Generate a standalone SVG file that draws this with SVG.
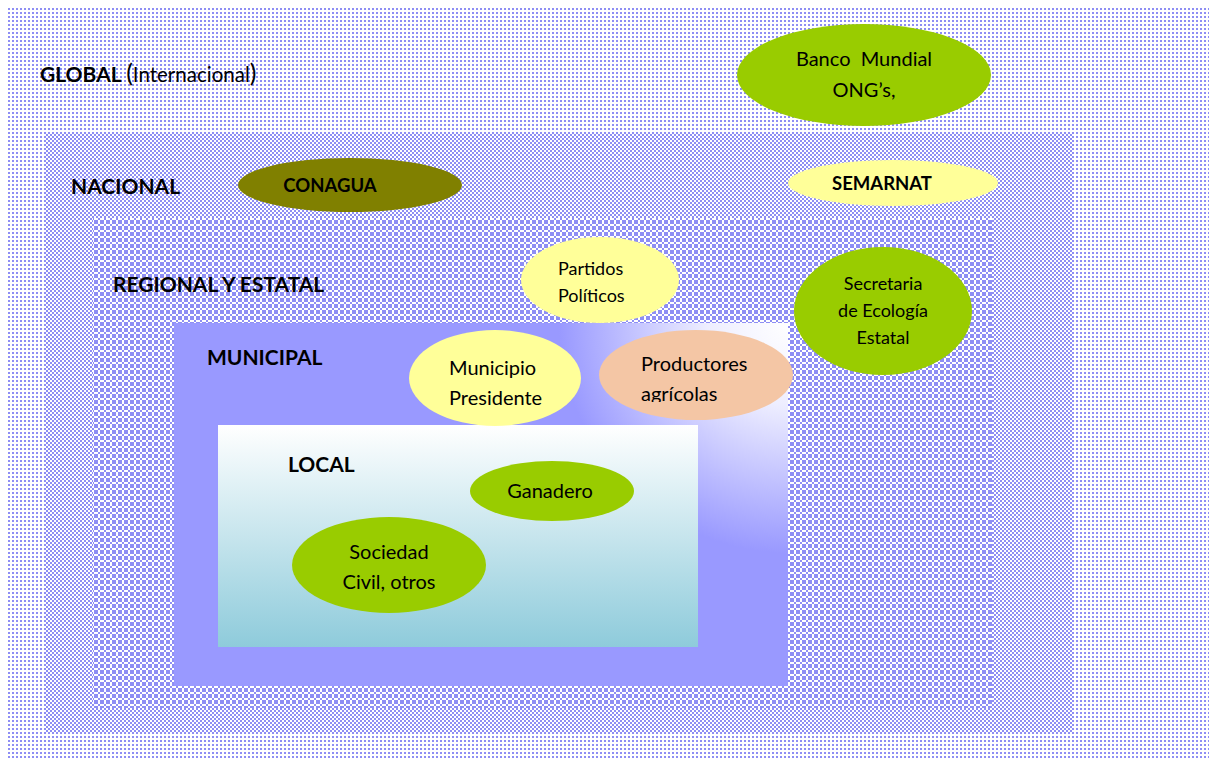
<svg xmlns="http://www.w3.org/2000/svg" width="1212" height="759" viewBox="0 0 1212 759">
<defs>
<style>
.lbl{font-family:Lato,"Open Sans","Liberation Sans",sans-serif;font-weight:bold;fill:#000}
.t{font-family:Lato,"Open Sans","Liberation Sans",sans-serif;fill:#000}
</style>
<pattern id="pGlobal" width="4" height="4" patternUnits="userSpaceOnUse">
<rect width="4" height="4" fill="#ffffff"/>
<rect x="0" y="0" width="2" height="2" fill="#8e8ef4"/>
</pattern>
<pattern id="pNac" width="4" height="4" patternUnits="userSpaceOnUse">
<rect width="4" height="4" fill="#ffffff"/>
<rect x="0" y="0" width="2" height="2" fill="#8e8ef4"/>
<rect x="2" y="2" width="2" height="2" fill="#8e8ef4"/>
</pattern>
<pattern id="pReg" width="6" height="6" patternUnits="userSpaceOnUse">
<rect width="6" height="6" fill="#ffffff"/>
<rect x="0" y="0" width="2" height="2" fill="#8e8ef4"/>
<rect x="2" y="2" width="2" height="2" fill="#8e8ef4"/>
<rect x="4" y="0" width="2" height="2" fill="#8e8ef4"/>
<rect x="0" y="4" width="2" height="2" fill="#8e8ef4"/>
<rect x="4" y="4" width="2" height="2" fill="#8e8ef4"/>
</pattern>
<radialGradient id="gMun" gradientUnits="userSpaceOnUse" cx="790" cy="322" r="330">
<stop offset="0" stop-color="#ffffff"/>
<stop offset="0.25" stop-color="#eeeeff"/>
<stop offset="0.7" stop-color="#9999ff"/>
<stop offset="1" stop-color="#9999ff"/>
</radialGradient>
<linearGradient id="gLoc" x1="0" y1="0" x2="0" y2="1">
<stop offset="0" stop-color="#ffffff"/>
<stop offset="1" stop-color="#8ecbdb"/>
</linearGradient>
<clipPath id="clipProd"><rect x="600" y="330" width="200" height="72"/></clipPath>
</defs>

<g id="global">
<rect x="8" y="6" width="1201" height="753" fill="url(#pGlobal)"/>
<text class="lbl" x="40" y="82" font-size="21">GLOBAL <tspan font-weight="normal" font-size="25">(</tspan><tspan font-weight="normal" font-size="20.5">Internacional</tspan><tspan font-weight="normal" font-size="25">)</tspan></text>
</g>
<g id="nacional">
<rect x="44" y="132" width="1029" height="601" fill="url(#pNac)"/>
<text class="lbl" x="71" y="194" font-size="21">NACIONAL</text>
</g>
<g id="regional">
<rect x="93" y="218" width="899" height="490" fill="url(#pReg)"/>
<text class="lbl" x="113" y="292" font-size="21">REGIONAL Y ESTATAL</text>
</g>
<g id="municipal">
<rect x="174" y="323" width="614" height="363" fill="url(#gMun)"/>
<text class="lbl" x="207" y="365" font-size="21">MUNICIPAL</text>
</g>
<g id="local">
<rect x="218" y="425" width="480" height="222" fill="url(#gLoc)"/>
<text class="lbl" x="288" y="472" font-size="21">LOCAL</text>
</g>

<g id="banco">
<ellipse cx="864" cy="75" rx="127" ry="51" fill="#99cc00"/>
<text class="t" x="864" y="66" font-size="20" text-anchor="middle" xml:space="preserve">Banco  Mundial</text>
<text class="t" x="864" y="97" font-size="20" text-anchor="middle">ONG’s,</text>
</g>
<g id="conagua">
<ellipse cx="350" cy="185" rx="112" ry="27" fill="#808000"/>
<text class="lbl" x="330" y="192" font-size="18.5" text-anchor="middle">CONAGUA</text>
</g>
<g id="semarnat">
<ellipse cx="893" cy="183" rx="105" ry="23" fill="#ffff99"/>
<text class="lbl" x="882" y="190" font-size="18.5" text-anchor="middle">SEMARNAT</text>
</g>
<g id="partidos">
<ellipse cx="600" cy="280" rx="79" ry="43" fill="#ffff99"/>
<text class="t" x="558" y="275" font-size="18">Partidos</text>
<text class="t" x="558" y="302" font-size="18">Políticos</text>
</g>
<g id="secretaria">
<ellipse cx="883" cy="311" rx="89" ry="64" fill="#99cc00"/>
<text class="t" x="883" y="290" font-size="18" text-anchor="middle">Secretaria</text>
<text class="t" x="883" y="317" font-size="18" text-anchor="middle">de Ecología</text>
<text class="t" x="883" y="344" font-size="18" text-anchor="middle">Estatal</text>
</g>
<g id="municipio">
<ellipse cx="495" cy="378" rx="86" ry="48" fill="#ffff99"/>
<text class="t" x="449" y="375" font-size="20">Municipio</text>
<text class="t" x="449" y="405" font-size="20">Presidente</text>
</g>
<g id="productores">
<ellipse cx="696" cy="375" rx="97" ry="45" fill="#f4c6a5"/>
<g clip-path="url(#clipProd)">
<text class="t" x="641" y="371" font-size="20">Productores</text>
<text class="t" x="641" y="401" font-size="20">agrícolas</text>
</g>
</g>
<g id="ganadero">
<ellipse cx="552" cy="491" rx="82" ry="30" fill="#99cc00"/>
<text class="t" x="550" y="498" font-size="20" text-anchor="middle">Ganadero</text>
</g>
<g id="sociedad">
<ellipse cx="389" cy="565" rx="97" ry="48" fill="#99cc00"/>
<text class="t" x="389" y="559" font-size="20" text-anchor="middle">Sociedad</text>
<text class="t" x="389" y="589" font-size="20" text-anchor="middle">Civil, otros</text>
</g>
<g id="connectors"></g>
</svg>
